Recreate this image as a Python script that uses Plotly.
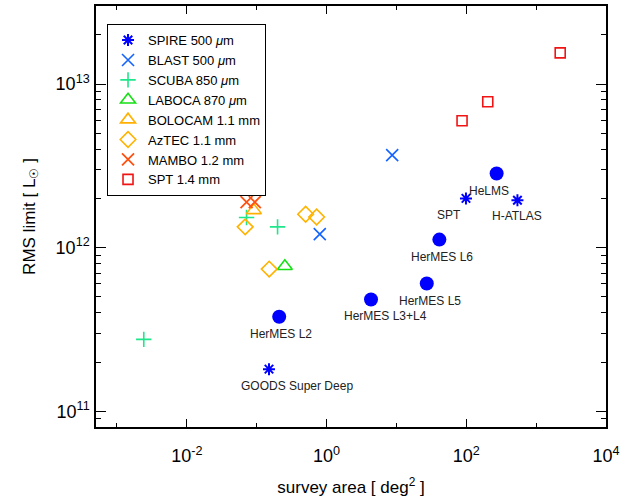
import math
import plotly.graph_objects as go

# ---- data (survey area in deg^2, RMS limit in L_sun) ----
spire_x = [0.15, 99, 540]
spire_y = [1.81e11, 2.0e12, 1.95e12]
spire_labels = ["GOODS Super Deep", "SPT", "H-ATLAS"]

blast_x = [8.7, 0.80]
blast_y = [3.68e12, 1.21e12]

scuba_x = [0.00242, 0.0716, 0.199]
scuba_y = [2.75e11, 1.53e12, 1.34e12]

laboca_x = [0.253]
laboca_y = [7.7e11]

bolocam_x = [0.0912]
bolocam_y = [1.69e12]

aztec_x = [0.0684, 0.502, 0.721, 0.151]
aztec_y = [1.34e12, 1.60e12, 1.54e12, 7.4e11]

mambo_x = [0.0716, 0.094]
mambo_y = [1.90e12, 1.90e12]

spt_x = [2210, 203, 87]
spt_y = [1.55e13, 7.8e12, 5.97e12]

hermes_x = [272, 41.2, 27.2, 4.33, 0.21]
hermes_y = [2.84e12, 1.12e12, 6.04e11, 4.82e11, 3.78e11]
hermes_labels = ["HeLMS", "HerMES L6", "HerMES L5", "HerMES L3+L4", "HerMES L2"]

x_tickvals = [1e-2, 1e0, 1e2, 1e4]
x_ticktext = ["10<sup>-2</sup>", "10<sup>0</sup>", "10<sup>2</sup>", "10<sup>4</sup>"]
x_minorvals = [1e-3, 1e-1, 1e1, 1e3]
y_tickvals = [1e11, 1e12, 1e13]
y_ticktext = ["10<sup>11</sup>", "10<sup>12</sup>", "10<sup>13</sup>"]
y_minorvals = [m * 10.0 ** d for d in (10, 11, 12, 13) for m in range(2, 10)]

# label pixel offsets (style)
spire_off = [(28, -17), (-17, -17), (0, -16)]
hermes_off = [(-8, -17), (3, -17), (3, -17), (14, -16), (2, -17)]

FONT = "Liberation Sans, Arial, Helvetica, sans-serif"

fig = go.Figure()

def add(x, y, name, symbol, color, size, lw=1.5, show=True):
    fig.add_trace(go.Scatter(
        x=x, y=y, mode="markers", name=name, showlegend=show,
        marker=dict(symbol=symbol, size=size, color=color,
                    line=dict(color=color, width=lw)),
    ))

add(spire_x, spire_y, "SPIRE 500 <i>μ</i>m", "asterisk-open", "#0000FF", 10, 2)
add(blast_x, blast_y, "BLAST 500 <i>μ</i>m", "x-thin-open", "#1464FF", 12, 1.6)
add(scuba_x, scuba_y, "SCUBA 850 <i>μ</i>m", "cross-thin-open", "#1EE68A", 11, 1.6)
add(laboca_x, laboca_y, "LABOCA 870 <i>μ</i>m", "triangle-up-open", "#14E014", 13, 1.6)
add(bolocam_x, bolocam_y, "BOLOCAM 1.1 mm", "triangle-up-open", "#FFB000", 13, 1.6)
add(aztec_x, aztec_y, "AzTEC 1.1 mm", "diamond-open", "#FFB300", 12, 1.6)
add(mambo_x, mambo_y, "MAMBO 1.2 mm", "x-thin-open", "#FF5010", 12, 1.8)
add(spt_x, spt_y, "SPT 1.4 mm", "square-open", "#F01414", 10, 1.6)
fig.add_trace(go.Scatter(
    x=hermes_x, y=hermes_y, mode="markers", showlegend=False,
    marker=dict(symbol="circle", size=14, color="#0000FF"),
))

annots = []
for xs, ys, labs, offs in [(spire_x, spire_y, spire_labels, spire_off),
                           (hermes_x, hermes_y, hermes_labels, hermes_off)]:
    for xv, yv, lab, (dx, dy) in zip(xs, ys, labs, offs):
        annots.append(dict(x=math.log10(xv), y=math.log10(yv), xref="x", yref="y",
                           text=lab, showarrow=False, xshift=dx, yshift=dy,
                           font=dict(family=FONT, size=12, color="#222222")))

axis_common = dict(
    type="log", showgrid=False, zeroline=False, automargin=False,
    showline=True, linecolor="black", linewidth=1.5, mirror="allticks",
    ticks="inside", tickcolor="black", tickwidth=1.3,
    tickfont=dict(family=FONT, size=18, color="black"),
)

fig.update_layout(
    width=631, height=501,
    margin=dict(l=96, r=25, t=6, b=74),
    paper_bgcolor="white", plot_bgcolor="white",
    font=dict(family=FONT, color="black"),
    hovermode=False,
    xaxis=dict(
        **axis_common,
        range=[-3.30, 4.0],
        tickmode="array", tickvals=x_tickvals, ticktext=x_ticktext, ticklen=8,
        ticklabelstandoff=12,
        minor=dict(tickmode="array", tickvals=x_minorvals, ticklen=4,
                   tickcolor="black", tickwidth=1.3, ticks="inside"),
        title=dict(text="survey area [ deg<sup>2</sup> ]",
                   font=dict(family=FONT, size=17, color="black"), standoff=16),
    ),
    yaxis=dict(
        **axis_common,
        range=[10.904, 13.477],
        tickmode="array", tickvals=y_tickvals, ticktext=y_ticktext, ticklen=10,
        ticklabelstandoff=1,
        minor=dict(tickmode="array", tickvals=y_minorvals, ticklen=5.5,
                   tickcolor="black", tickwidth=1.3, ticks="inside"),
        title=dict(text="RMS limit [ L<sub>☉</sub> ]",
                   font=dict(family=FONT, size=17, color="black"), standoff=16),
    ),
    legend=dict(
        x=0.0216, y=0.957, xanchor="left", yanchor="top",
        bgcolor="white", bordercolor="black", borderwidth=1,
        font=dict(family=FONT, size=13, color="black"),
        tracegroupgap=0, itemwidth=30,
    ),
    annotations=annots,
)

fig.write_html("out.html", config={"displayModeBar": False},
               post_script="document.body.style.margin='0';document.body.style.overflow='hidden';")
